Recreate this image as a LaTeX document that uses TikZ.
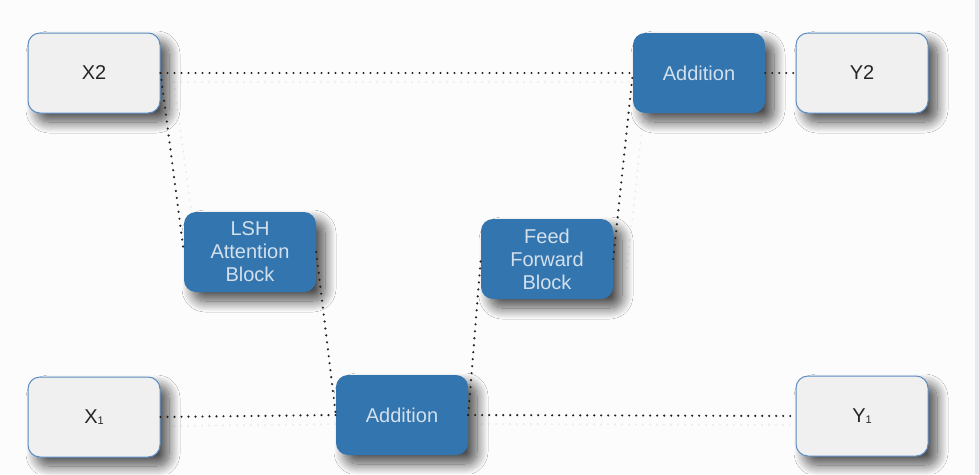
\documentclass[tikz,border=0pt]{standalone}
\usepackage{fontspec}
\setmainfont{Liberation Sans}
\usepackage{tikz}
\usetikzlibrary{shapes,positioning,shadows,shadows.blur}
\definecolor{boxblue}{HTML}{3375AE}
\definecolor{boxline}{HTML}{5B8DC3}
\definecolor{lightfill}{HTML}{F0F0F0}
\definecolor{textlight}{HTML}{D3E0EC}
\definecolor{dotgray}{HTML}{222222}
\definecolor{edgestrip}{HTML}{E8EBEF}
\tikzset{
  basic/.style  = {rectangle, rounded corners=12pt, minimum width=132pt, minimum height=80pt,
                   inner sep=0pt, align=center, font=\fontsize{20}{23}\selectfont,
                   blur shadow={shadow xshift=9pt, shadow yshift=-9pt, shadow blur steps=16,
                   shadow blur radius=11pt, shadow opacity=70}},
  inout/.style  = {basic, draw=boxline, line width=1pt, fill=lightfill, text=black!85},
  block/.style  = {basic, fill=boxblue, text=textlight},
  link/.style   = {draw=dotgray, line width=2.4pt, line cap=round, dash pattern=on 0pt off 7pt},
  linkshade/.style = {draw=black!7, line width=2.4pt, line cap=round, dash pattern=on 0pt off 7pt}
}
\newcommand{\smallone}{{\fontsize{11}{11}\selectfont\raisebox{-1pt}{1}}}

\begin{document}
\begin{tikzpicture}[x=1pt,y=-1pt]
\useasboundingbox (0,0) rectangle (979,474);
\fill[white!99!black] (0,0) rectangle (975,474);
\fill[edgestrip] (975,0) rectangle (979,474);

% faint copies of the links
\begin{scope}[shift={(14,9)}]
\draw[linkshade] (160,73) -- (633,73);
\draw[linkshade] (160,73) -- (184,252);
\draw[linkshade] (613,259) -- (633,73);
\draw[linkshade] (160,417) -- (336,415);
\draw[linkshade] (468,415) -- (796,416);
\end{scope}

\node[inout] (x2) at (94,73) {X2};
\node[inout] (y2) at (862,73) {Y2};
\node[block] (addtop) at (699,73) {Addition};
\node[block] (lsh) at (250,252) {LSH\\Attention\\Block};
\node[block] (ffb) at (547,259) {Feed\\Forward\\Block};
\node[block] (addbot) at (402,415) {Addition};
\node[inout] (x1) at (94,417) {X\smallone};
\node[inout] (y1) at (862,416) {Y\smallone};

\draw[link] (x2.east) -- (addtop.west);
\draw[link] (addtop.east) -- (y2.west);
\draw[link] (x2.east) -- (lsh.west);
\draw[link] (lsh.east) -- (addbot.west);
\draw[link] (addbot.east) -- (ffb.west);
\draw[link] (ffb.east) -- (addtop.west);
\draw[link] (x1.east) -- (addbot.west);
\draw[link] (addbot.east) -- (y1.west);
\end{tikzpicture}
\end{document}
